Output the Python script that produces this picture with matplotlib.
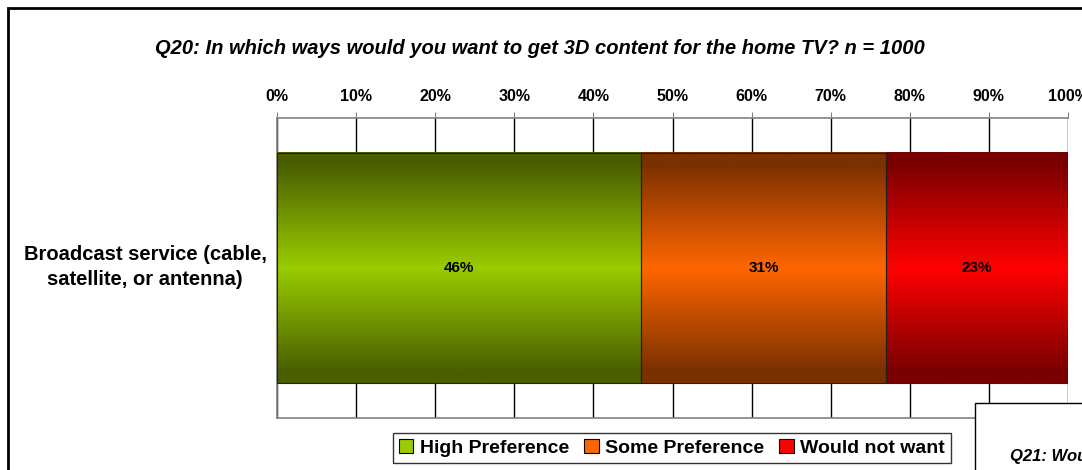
import matplotlib
matplotlib.use("Agg")
import matplotlib.pyplot as plt
import matplotlib.patches as mpatches
import numpy as np
from matplotlib.colors import LinearSegmentedColormap

plt.rcParams['font.family'] = ['Liberation Sans', 'DejaVu Sans']

title = "Q20: In which ways would you want to get 3D content for the home TV? n = 1000"
category = "Broadcast service (cable,\nsatellite, or antenna)"
series = ["High Preference", "Some Preference", "Would not want"]
values = [46, 31, 23]
ticks = [0, 10, 20, 30, 40, 50, 60, 70, 80, 90, 100]
# (edge/dark, middle/bright)
shades = [("#4a5e00", "#99cc00"), ("#7a3000", "#ff6600"), ("#7a0000", "#ff0000")]

fig = plt.figure(figsize=(10.82, 4.70), dpi=100)
ax = fig.add_axes([277 / 1082, 1 - 418 / 470, (1068 - 277) / 1082, 300 / 470])

ax.set_xlim(0, 100)
ax.set_ylim(-0.5, 0.5)

left = 0
t = np.linspace(0, 1, 101)
grad = np.clip(1 - np.abs(t - 0.5) * 2.2, 0, 1).reshape(-1, 1)
for name, val, (dark, bright) in zip(series, values, shades):
    bars = ax.barh(0, val, left=left, height=0.767, color="none",
                   edgecolor="#202020", linewidth=0.8, zorder=4)
    b = bars[0]
    cmap = LinearSegmentedColormap.from_list(name, [dark, bright])
    ax.imshow(grad, cmap=cmap, aspect="auto", zorder=3,
              extent=[b.get_x(), b.get_x() + b.get_width(),
                      b.get_y(), b.get_y() + b.get_height()])
    ax.text(left + val / 2, 0, f"{val}%", ha="center", va="center",
            fontsize=11, fontweight="bold", zorder=5)
    left += val

ax.set_xlim(0, 100)
ax.set_ylim(-0.5, 0.5)

ax.xaxis.tick_top()
ax.set_xticks(ticks)
ax.set_xticklabels([f"{t}%" for t in ticks], fontsize=11.5, fontweight="bold")
ax.tick_params(axis="x", length=4, color="#808080", pad=6)
ax.grid(axis="x", color="black", linewidth=1, zorder=1)
ax.set_axisbelow(True)
ax.set_yticks([])

for s in ["top", "left", "bottom"]:
    ax.spines[s].set_color("#808080")
    ax.spines[s].set_linewidth(1.2)
ax.spines["right"].set_visible(False)

fig.text(145 / 1082, 1 - 267 / 470, category, ha="center", va="center",
         fontsize=14.5, fontweight="bold", linespacing=1.35)

fig.text(540 / 1082, 1 - 48 / 470, title, ha="center", va="center",
         fontsize=14.5, fontweight="bold", fontstyle="italic")

handles = [mpatches.Patch(facecolor=b, edgecolor="black", linewidth=0.8, label=n)
           for n, (d, b) in zip(series, shades)]
leg = fig.legend(handles=handles, loc="center", ncol=3,
                 bbox_to_anchor=(672 / 1082, 1 - 448 / 470),
                 prop={"weight": "bold", "size": 14}, frameon=True, fancybox=False,
                 edgecolor="black", handlelength=0.75, handleheight=0.75,
                 handletextpad=0.35, columnspacing=0.75, borderpad=0.3)
leg.get_frame().set_linewidth(1)

# outer border of the slide
fig.add_artist(mpatches.Rectangle((8 / 1082, -0.1), 1.2, 1 - 8 / 470 + 0.1,
                                  transform=fig.transFigure, fill=False,
                                  edgecolor="black", linewidth=2, zorder=10))
# next chart box peeking in from bottom-right
fig.add_artist(mpatches.Rectangle((975 / 1082, -0.1), 0.2, 1 - 403 / 470 + 0.1,
                                  transform=fig.transFigure, facecolor="white",
                                  edgecolor="black", linewidth=1, zorder=11))
fig.text(1010 / 1082, 1 - 456 / 470, "Q21: Would you", ha="left", va="center",
         fontsize=12, fontweight="bold", fontstyle="italic", zorder=12)

fig.savefig("out.png", dpi=100)
